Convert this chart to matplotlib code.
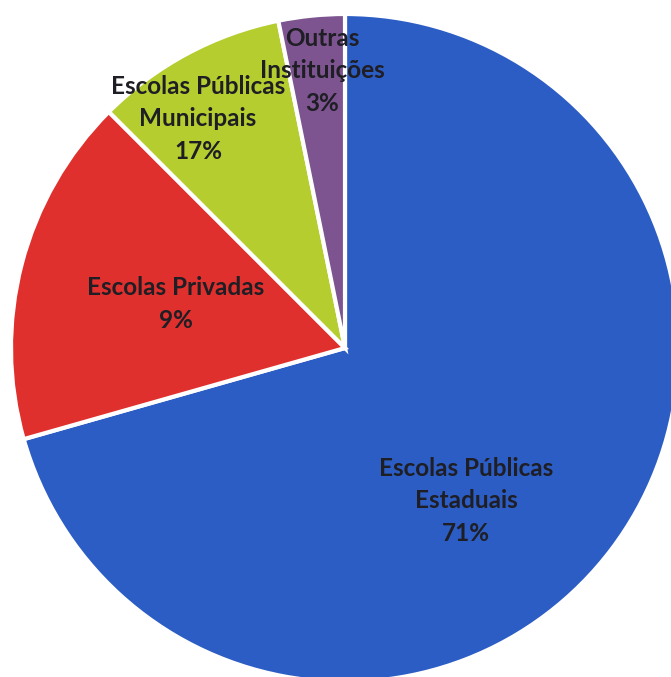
import matplotlib
matplotlib.use("Agg")
import matplotlib.pyplot as plt

categories = ["Escolas Públicas\nEstaduais", "Escolas Privadas", "Escolas Públicas\nMunicipais", "Outras\nInstituições"]
values = [70.6, 16.9, 9.3, 3.2]
pct_labels = ["71%", "9%", "17%", "3%"]
colors = ["#2C5DC4", "#E0302E", "#B5CD2F", "#7D5490"]

W, H = 671, 677
fig = plt.figure(figsize=(W / 100, H / 100), dpi=100)
ax = fig.add_axes([0, 0, 1, 1])
R = 334.0
cx, cy = 345.0, 348.0
ax.pie(values, colors=colors, startangle=90, counterclock=False, radius=1,
       wedgeprops=dict(edgecolor="white", linewidth=3))
ax.set_xlim(-cx / R, (W - cx) / R)
ax.set_ylim(-(H - cy) / R, cy / R)
ax.set_aspect("equal")
ax.axis("off")

# label centres in pixel positions (x, y of middle line)
label_pos = [(466, 501), (176, 304), (198, 119), (322, 71)]
for cat, pct, (px, py) in zip(categories, pct_labels, label_pos):
    ax.text(px / W, 1 - py / H, f"{cat}\n{pct}", transform=fig.transFigure,
            ha="center", va="center", fontsize=17.5, fontweight="bold",
            family="Lato", color="#1E1E24", linespacing=1.52)

fig.savefig("out.png", dpi=100)
